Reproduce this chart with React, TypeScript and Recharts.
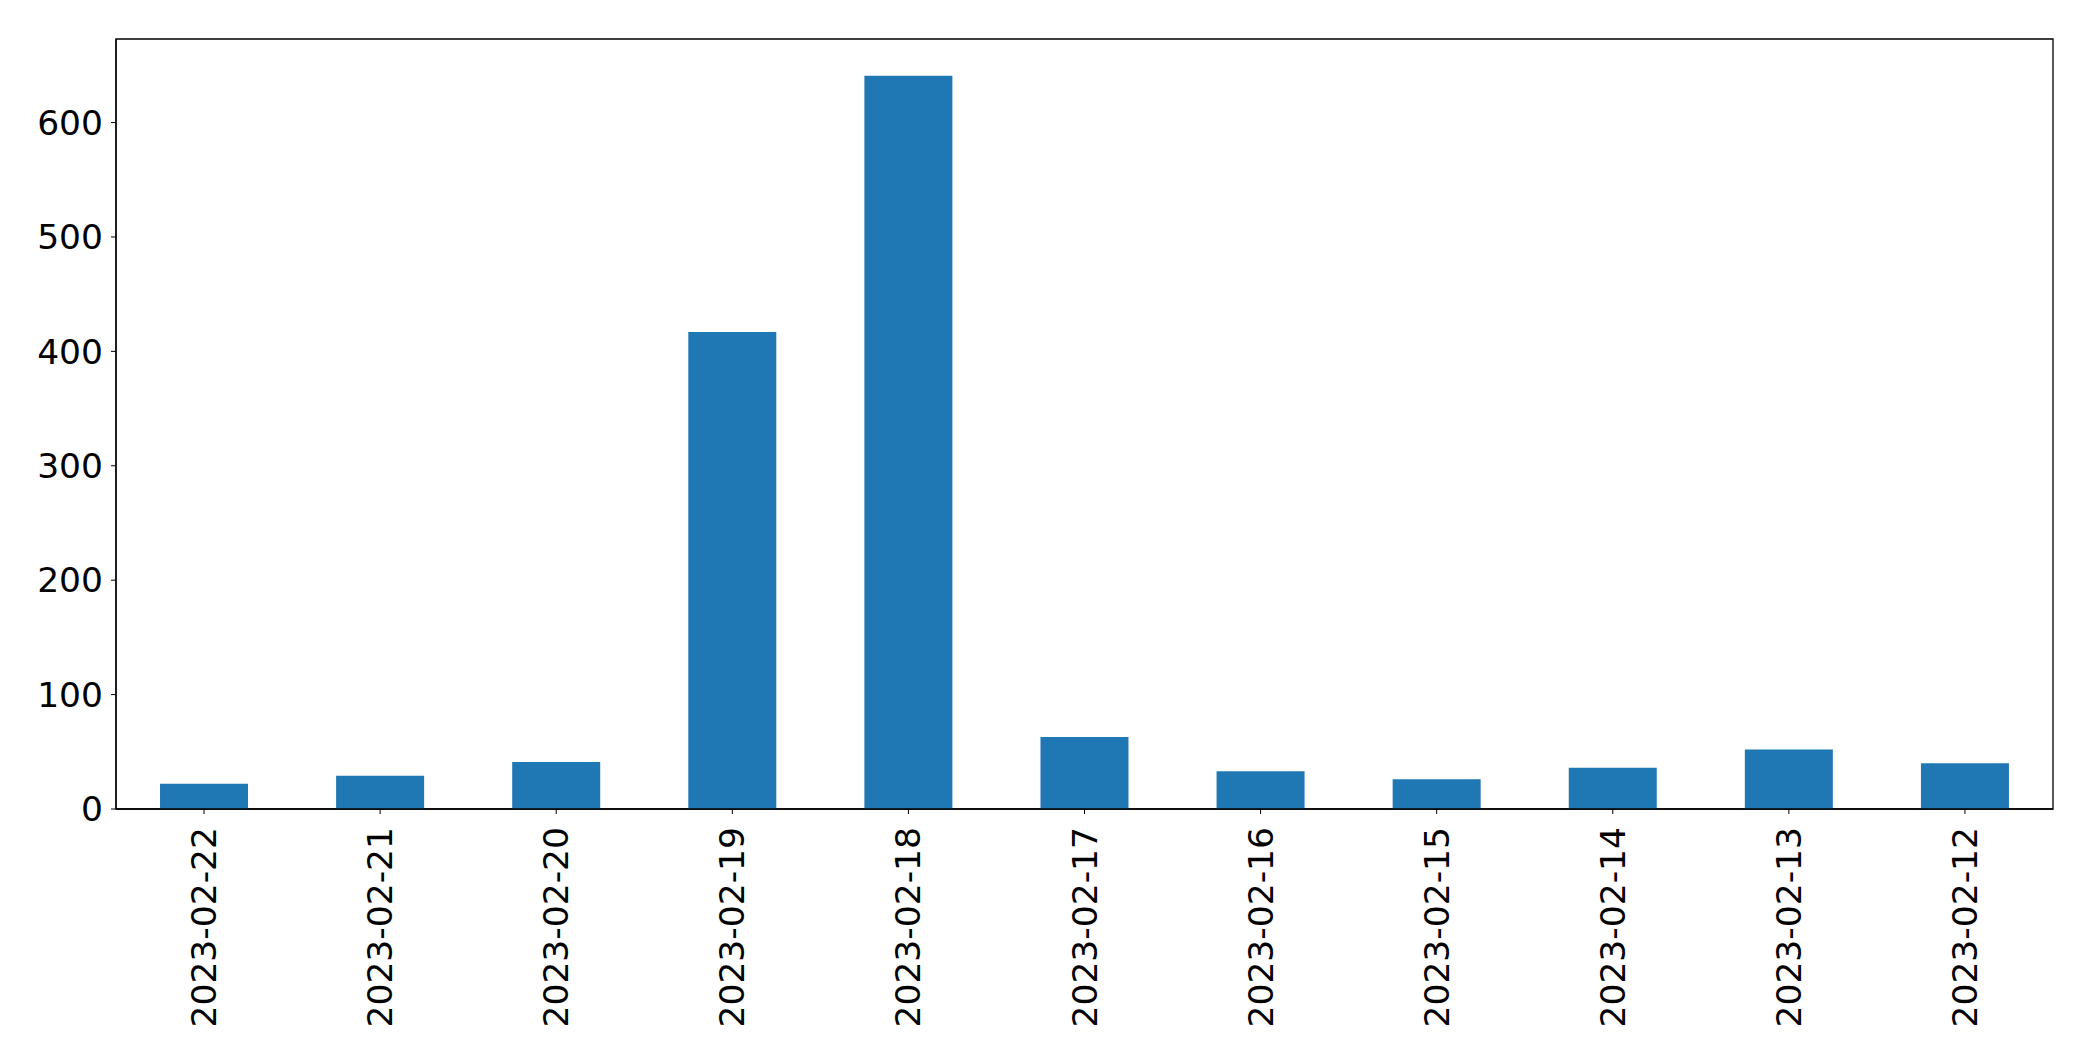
import { BarChart, Bar, XAxis, YAxis, ReferenceArea } from "recharts";

const dates = [
  "2023-02-22",
  "2023-02-21",
  "2023-02-20",
  "2023-02-19",
  "2023-02-18",
  "2023-02-17",
  "2023-02-16",
  "2023-02-15",
  "2023-02-14",
  "2023-02-13",
  "2023-02-12",
];

const counts = [22, 29, 41, 417, 641, 63, 33, 26, 36, 52, 40];

const yTicks = [0, 100, 200, 300, 400, 500, 600];

const data = dates.map((date, i) => ({ date, count: counts[i] }));

const FONT = "'DejaVu Sans', sans-serif";
const FONT_SIZE = 34.5;
const yMax = Math.max(...counts) * 1.05;

function DateTick({ x, y, payload }: any) {
  return (
    <text
      transform={`translate(${x},${y + 11}) rotate(-90)`}
      textAnchor="end"
      dominantBaseline="central"
      fontFamily={FONT}
      fontSize={FONT_SIZE}
      fill="#000"
    >
      {payload.value}
    </text>
  );
}

export default function App() {
  return (
    <div style={{ position: "absolute", left: 0, top: 0, background: "#fff" }}>
      <BarChart
        width={2093}
        height={1061}
        data={data}
        margin={{ top: 39, right: 40, bottom: 0, left: 0 }}
        barCategoryGap="25%"
      >
        <XAxis
          dataKey="date"
          height={252}
          interval={0}
          tickSize={5}
          tickMargin={2}
          tick={<DateTick />}
          stroke="#000"
          tickLine={{ stroke: "#000" }}
          axisLine={{ stroke: "#000", strokeWidth: 1.3 }}
        />
        <YAxis
          width={116}
          domain={[0, yMax]}
          ticks={yTicks}
          tickSize={5}
          tickMargin={8}
          tick={{ fontFamily: FONT, fontSize: FONT_SIZE, fill: "#000" }}
          tickLine={{ stroke: "#000" }}
          axisLine={{ stroke: "#000", strokeWidth: 1.3 }}
          allowDataOverflow
        />
        <Bar dataKey="count" fill="#1f77b4" isAnimationActive={false} />
        <ReferenceArea
          y1={0}
          y2={yMax}
          fill="none"
          fillOpacity={0}
          stroke="#000"
          strokeWidth={1.3}
          ifOverflow="visible"
        />
      </BarChart>
    </div>
  );
}
